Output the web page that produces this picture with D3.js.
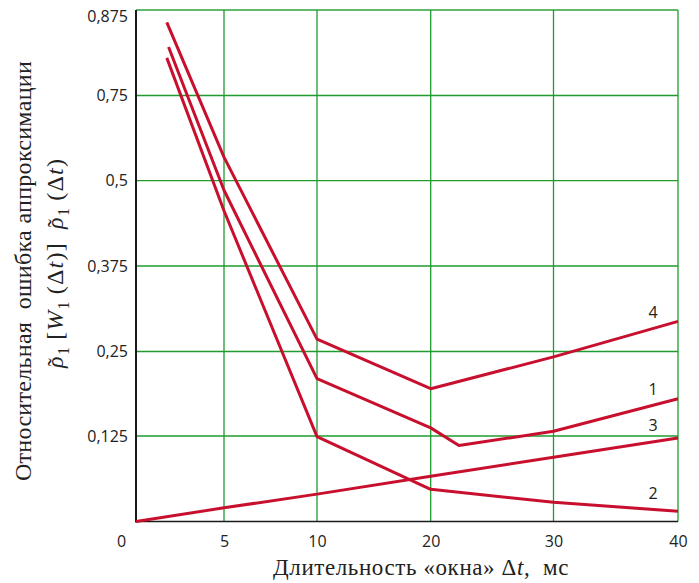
<!DOCTYPE html>
<html>
<head>
<meta charset="utf-8">
<script src="https://cdn.jsdelivr.net/npm/d3@7"></script>
<style>
  body { margin: 0; background: #fff; }
  svg text { fill: #222; }
</style>
</head>
<body>
<svg id="chart" width="699" height="583"></svg>
<script>
// values
const xTicks = [0, 5, 10, 20, 30, 40];
const yTicks = [0, 0.125, 0.25, 0.375, 0.5, 0.75, 0.875];

const series1 = [[1.85, 0.821], [5, 0.486], [10, 0.210], [20, 0.137], [22.3, 0.111], [30, 0.132], [40, 0.180]];
const series2 = [[1.75, 0.805], [5, 0.456], [10, 0.124], [20, 0.047], [30, 0.028], [40, 0.015]];
const series3 = [[0, 0], [5, 0.020], [10, 0.040], [20, 0.066], [30, 0.094], [40, 0.122]];
const series4 = [[1.75, 0.857], [5, 0.569], [10, 0.268], [20, 0.195], [30, 0.242], [40, 0.294]];

const seriesNames = ['1', '2', '3', '4'];
const labelAt = 38;

const svg = d3.select('#chart');

// both axes are not uniform on the original, so piecewise scales
const x = d3.scaleLinear().domain(xTicks).range([136, 224, 317, 430.7, 553.5, 678]);
const y = d3.scaleLinear().domain(yTicks).range([521.5, 436, 351.5, 266, 180.7, 95.5, 10]);

const green = '#1f9b2f';
const red = '#c8102e';

const grid = svg.append('g').attr('class', 'grid');

grid.selectAll('line.v').data(xTicks.slice(1)).join('line')
  .classed('v', true)
  .attr('x1', d => x(d)).attr('x2', d => x(d))
  .attr('y1', y(0.875)).attr('y2', y(0))
  .attr('stroke', green).attr('stroke-width', 1.3);

grid.selectAll('line.h').data(yTicks.slice(1)).join('line')
  .classed('h', true)
  .attr('x1', x(0)).attr('x2', x(40))
  .attr('y1', d => y(d)).attr('y2', d => y(d))
  .attr('stroke', green).attr('stroke-width', d => d === 0.875 ? 2.2 : 1.3)
  .attr('stroke-opacity', d => d === 0.875 ? 0.7 : 1);

// axes
const fmt = d => String(d).replace('.', ',');

const yAxis = svg.append('g')
  .attr('transform', `translate(${x(0)},0)`)
  .call(d3.axisLeft(y).tickValues(yTicks.slice(1)).tickFormat(fmt).tickSize(0).tickPadding(8));
yAxis.select('.domain').remove();
yAxis.selectAll('text').filter(d => d === 0.875).attr('dy', '0.7em');

const xAxis = svg.append('g')
  .attr('transform', `translate(0,${y(0)})`)
  .call(d3.axisBottom(x).tickValues(xTicks).tickFormat(d => d).tickSize(0).tickPadding(14));
xAxis.select('.domain').remove();
xAxis.selectAll('text').filter(d => d === 0).attr('dx', -15);

svg.selectAll('.tick text')
  .style('font-family', '"Open Sans", sans-serif')
  .style('font-size', '16px')
  .attr('fill', '#222');

svg.append('line')
  .attr('x1', x(0)).attr('x2', x(0)).attr('y1', y(0.875)).attr('y2', y(0) + 1)
  .attr('stroke', '#1a1a1a').attr('stroke-width', 2);
svg.append('line')
  .attr('x1', x(0)).attr('x2', x(40)).attr('y1', y(0)).attr('y2', y(0))
  .attr('stroke', '#1a1a1a').attr('stroke-width', 1.6);

// curves
const allSeries = [series1, series2, series3, series4];
const line = d3.line().x(d => x(d[0])).y(d => y(d[1]));

svg.append('g').selectAll('path').data(allSeries).join('path')
  .attr('d', line)
  .attr('fill', 'none')
  .attr('stroke', red)
  .attr('stroke-width', 3)
  .attr('stroke-linejoin', 'round');

// curve numbers sit a little above each line near the right edge
function pixelYAt(s, xv) {
  const i = s.findIndex(p => p[0] >= xv);
  const a = s[i - 1], b = s[i];
  const t = (x(xv) - x(a[0])) / (x(b[0]) - x(a[0]));
  return y(a[1]) + t * (y(b[1]) - y(a[1]));
}

svg.append('g').selectAll('text').data(allSeries).join('text')
  .attr('x', x(labelAt))
  .attr('y', s => pixelYAt(s, labelAt) - 16)
  .attr('dy', '0.35em')
  .attr('text-anchor', 'middle')
  .style('font-family', '"Open Sans", sans-serif')
  .style('font-size', '16px')
  .text((s, i) => seriesNames[i]);

// titles
const serif = '"Liberation Serif", "Times New Roman", serif';

svg.append('text')
  .attr('x', 421).attr('y', 575)
  .attr('text-anchor', 'middle')
  .style('font-family', serif).style('font-size', '23px')
  .style('letter-spacing', '0.6px')
  .call(t => {
    t.append('tspan').text('Длительность «окна» Δ');
    t.append('tspan').style('font-style', 'italic').text('t');
    t.append('tspan').text(',\u00a0\u00a0мс');
  });

svg.append('text')
  .attr('transform', 'translate(31,271) rotate(-90)')
  .attr('text-anchor', 'middle')
  .style('font-family', serif).style('font-size', '24px')
  .style('letter-spacing', '0.3px')
  .text('Относительная\u00a0\u00a0ошибка аппроксимации');

// second title line is a formula; it starts at the bottom and runs up
const math = svg.append('text')
  .attr('transform', 'translate(63,368) rotate(-90)')
  .attr('text-anchor', 'start')
  .style('font-family', serif).style('font-size', '24px')
  .style('letter-spacing', '1.2px');

function rhoTilde(sel) {
  sel.append('tspan').style('font-style', 'italic').text('ρ');
  sel.append('tspan').attr('dx', -11).attr('dy', 1).text('˜');
  sel.append('tspan').attr('dx', 2).attr('dy', 5).style('font-size', '16px').text('1');
}

rhoTilde(math);
math.append('tspan').attr('dy', -6).text('\u2009[');
math.append('tspan').style('font-style', 'italic').text('W');
math.append('tspan').attr('dy', 6).style('font-size', '16px').text('1');
math.append('tspan').attr('dy', -6).text('\u2009(Δ');
math.append('tspan').style('font-style', 'italic').text('t');
math.append('tspan').text(')]\u00a0\u2009');
rhoTilde(math);
math.append('tspan').attr('dy', -6).text('\u2009(Δ');
math.append('tspan').style('font-style', 'italic').text('t');
math.append('tspan').text(')');
</script>
</body>
</html>
